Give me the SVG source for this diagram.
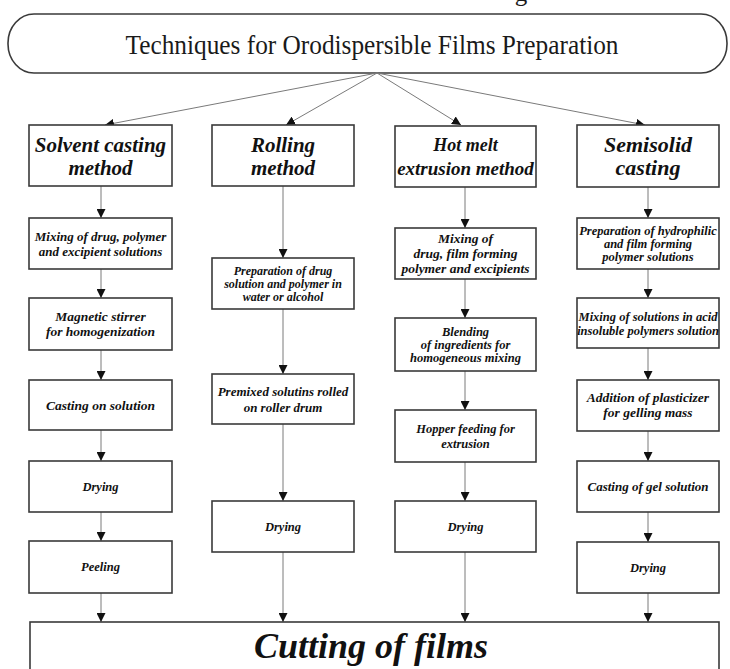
<svg xmlns="http://www.w3.org/2000/svg" width="730" height="669" viewBox="0 0 730 669">
<style>
.box{fill:#fff;stroke:#3a3a3a;stroke-width:1.6}
.t{font-family:"Liberation Serif","Times New Roman",serif;font-weight:bold;font-style:italic;text-anchor:middle;fill:#111}
.title{font-family:"Liberation Serif","Times New Roman",serif;text-anchor:middle;fill:#1a1a1a}
.c{stroke:#7a7a7a;stroke-width:1;fill:none;marker-end:url(#ah)}
</style>
<defs>
<marker id="ah" markerUnits="userSpaceOnUse" markerWidth="9" markerHeight="9" refX="9" refY="4.5" orient="auto">
<path d="M0,0 L9,4.5 L0,9 z" fill="#111"/>
</marker>
</defs>
<rect width="730" height="669" fill="#fff"/>
<text class="title" x="521" y="1" font-size="25">g</text>

<g id="title">
<rect class="box" x="8" y="14" width="719" height="59" rx="26" ry="29"/>
<text class="title" x="372" y="54" font-size="27" textLength="493" lengthAdjust="spacingAndGlyphs">Techniques for Orodispersible Films Preparation</text>
</g>

<g id="connectors">
<line class="c" x1="377" y1="73" x2="105" y2="125"/>
<line class="c" x1="377" y1="73" x2="286" y2="125"/>
<line class="c" x1="377" y1="73" x2="461" y2="125"/>
<line class="c" x1="377" y1="73" x2="645" y2="125"/>
<line class="c" x1="101" y1="186" x2="101" y2="218"/>
<line class="c" x1="101" y1="269" x2="101" y2="298"/>
<line class="c" x1="101" y1="350" x2="101" y2="380"/>
<line class="c" x1="101" y1="430" x2="101" y2="461"/>
<line class="c" x1="101" y1="512" x2="101" y2="541"/>
<line class="c" x1="101" y1="593" x2="101" y2="622"/>
<line class="c" x1="283" y1="186" x2="283" y2="258"/>
<line class="c" x1="283" y1="309" x2="283" y2="374"/>
<line class="c" x1="283" y1="424" x2="283" y2="501"/>
<line class="c" x1="283" y1="552" x2="283" y2="622"/>
<line class="c" x1="465" y1="187" x2="465" y2="228"/>
<line class="c" x1="465" y1="279" x2="465" y2="318"/>
<line class="c" x1="465" y1="371" x2="465" y2="410"/>
<line class="c" x1="465" y1="462" x2="465" y2="501"/>
<line class="c" x1="465" y1="552" x2="465" y2="622"/>
<line class="c" x1="648" y1="187" x2="648" y2="218"/>
<line class="c" x1="648" y1="269" x2="648" y2="298"/>
<line class="c" x1="648" y1="348" x2="648" y2="380"/>
<line class="c" x1="648" y1="431" x2="648" y2="461"/>
<line class="c" x1="648" y1="512" x2="648" y2="542"/>
<line class="c" x1="648" y1="593" x2="648" y2="622"/>
</g>

<g id="solvent-casting">
<rect class="box" x="29" y="125" width="143" height="61"/>
<text class="t" x="100.5" y="152" font-size="21">Solvent casting</text>
<text class="t" x="100.5" y="175" font-size="21">method</text>
</g>
<g id="rolling">
<rect class="box" x="212" y="125" width="142" height="61"/>
<text class="t" x="283" y="152" font-size="21">Rolling</text>
<text class="t" x="283" y="175" font-size="21">method</text>
</g>
<g id="hot-melt">
<rect class="box" x="395" y="126" width="141" height="61"/>
<text class="t" x="465.5" y="151" font-size="18">Hot melt</text>
<text class="t" x="465.5" y="175" font-size="19">extrusion method</text>
</g>
<g id="semisolid">
<rect class="box" x="577" y="125" width="142" height="62"/>
<text class="t" x="648" y="152" font-size="22">Semisolid</text>
<text class="t" x="648" y="175" font-size="22">casting</text>
</g>

<g id="s2">
<rect class="box" x="29" y="218" width="143" height="51"/>
<text class="t" x="100.5" y="241" font-size="13">Mixing of drug, polymer</text>
<text class="t" x="100.5" y="256" font-size="13">and excipient solutions</text>
</g>
<g id="s3">
<rect class="box" x="29" y="298" width="143" height="52"/>
<text class="t" x="100.5" y="321" font-size="13.5">Magnetic stirrer</text>
<text class="t" x="100.5" y="336" font-size="13.5">for homogenization</text>
</g>
<g id="s4">
<rect class="box" x="29" y="380" width="143" height="50"/>
<text class="t" x="100.5" y="410" font-size="13.5">Casting on solution</text>
</g>
<g id="s5">
<rect class="box" x="29" y="461" width="143" height="51"/>
<text class="t" x="100.5" y="491" font-size="12.5">Drying</text>
</g>
<g id="s6">
<rect class="box" x="29" y="541" width="143" height="52"/>
<text class="t" x="100.5" y="571" font-size="12.5">Peeling</text>
</g>

<g id="r2">
<rect class="box" x="212" y="258" width="142" height="51"/>
<text class="t" x="283" y="275" font-size="12">Preparation of drug</text>
<text class="t" x="283" y="288" font-size="12">solution and polymer in</text>
<text class="t" x="283" y="301" font-size="12">water or alcohol</text>
</g>
<g id="r3">
<rect class="box" x="212" y="374" width="142" height="50"/>
<text class="t" x="283" y="396" font-size="13">Premixed solutins rolled</text>
<text class="t" x="283" y="412" font-size="13">on roller drum</text>
</g>
<g id="r4">
<rect class="box" x="212" y="501" width="142" height="51"/>
<text class="t" x="283" y="531" font-size="12.5">Drying</text>
</g>

<g id="h2">
<rect class="box" x="395" y="228" width="141" height="51"/>
<text class="t" x="465.5" y="243" font-size="13.5">Mixing of</text>
<text class="t" x="465.5" y="258" font-size="13.5">drug, film forming</text>
<text class="t" x="465.5" y="273" font-size="13.5">polymer and excipients</text>
</g>
<g id="h3">
<rect class="box" x="395" y="318" width="141" height="53"/>
<text class="t" x="465.5" y="336" font-size="12.5">Blending</text>
<text class="t" x="465.5" y="349" font-size="12.5">of ingredients for</text>
<text class="t" x="465.5" y="362" font-size="12.5">homogeneous mixing</text>
</g>
<g id="h4">
<rect class="box" x="395" y="410" width="141" height="52"/>
<text class="t" x="465.5" y="433" font-size="12.5">Hopper feeding for</text>
<text class="t" x="465.5" y="448" font-size="12.5">extrusion</text>
</g>
<g id="h5">
<rect class="box" x="395" y="501" width="141" height="51"/>
<text class="t" x="465.5" y="531" font-size="12.5">Drying</text>
</g>

<g id="m2">
<rect class="box" x="577" y="218" width="142" height="51"/>
<text class="t" x="648" y="235" font-size="12.5">Preparation of hydrophilic</text>
<text class="t" x="648" y="248" font-size="12.5">and film forming</text>
<text class="t" x="648" y="261" font-size="12.5">polymer solutions</text>
</g>
<g id="m3">
<rect class="box" x="577" y="298" width="142" height="50"/>
<text class="t" x="648" y="321" font-size="12.5">Mixing of solutions in acid</text>
<text class="t" x="648" y="335" font-size="12.5">insoluble polymers solution</text>
</g>
<g id="m4">
<rect class="box" x="577" y="380" width="142" height="51"/>
<text class="t" x="648" y="402" font-size="13.5">Addition of plasticizer</text>
<text class="t" x="648" y="417" font-size="13.5">for gelling mass</text>
</g>
<g id="m5">
<rect class="box" x="577" y="461" width="142" height="51"/>
<text class="t" x="648" y="491" font-size="13">Casting of gel solution</text>
</g>
<g id="m6">
<rect class="box" x="577" y="542" width="142" height="51"/>
<text class="t" x="648" y="572" font-size="12.5">Drying</text>
</g>

<g id="cutting">
<rect class="box" x="30" y="622" width="689" height="70"/>
<text class="t" x="371" y="658" font-size="36">Cutting of films</text>
</g>
</svg>
